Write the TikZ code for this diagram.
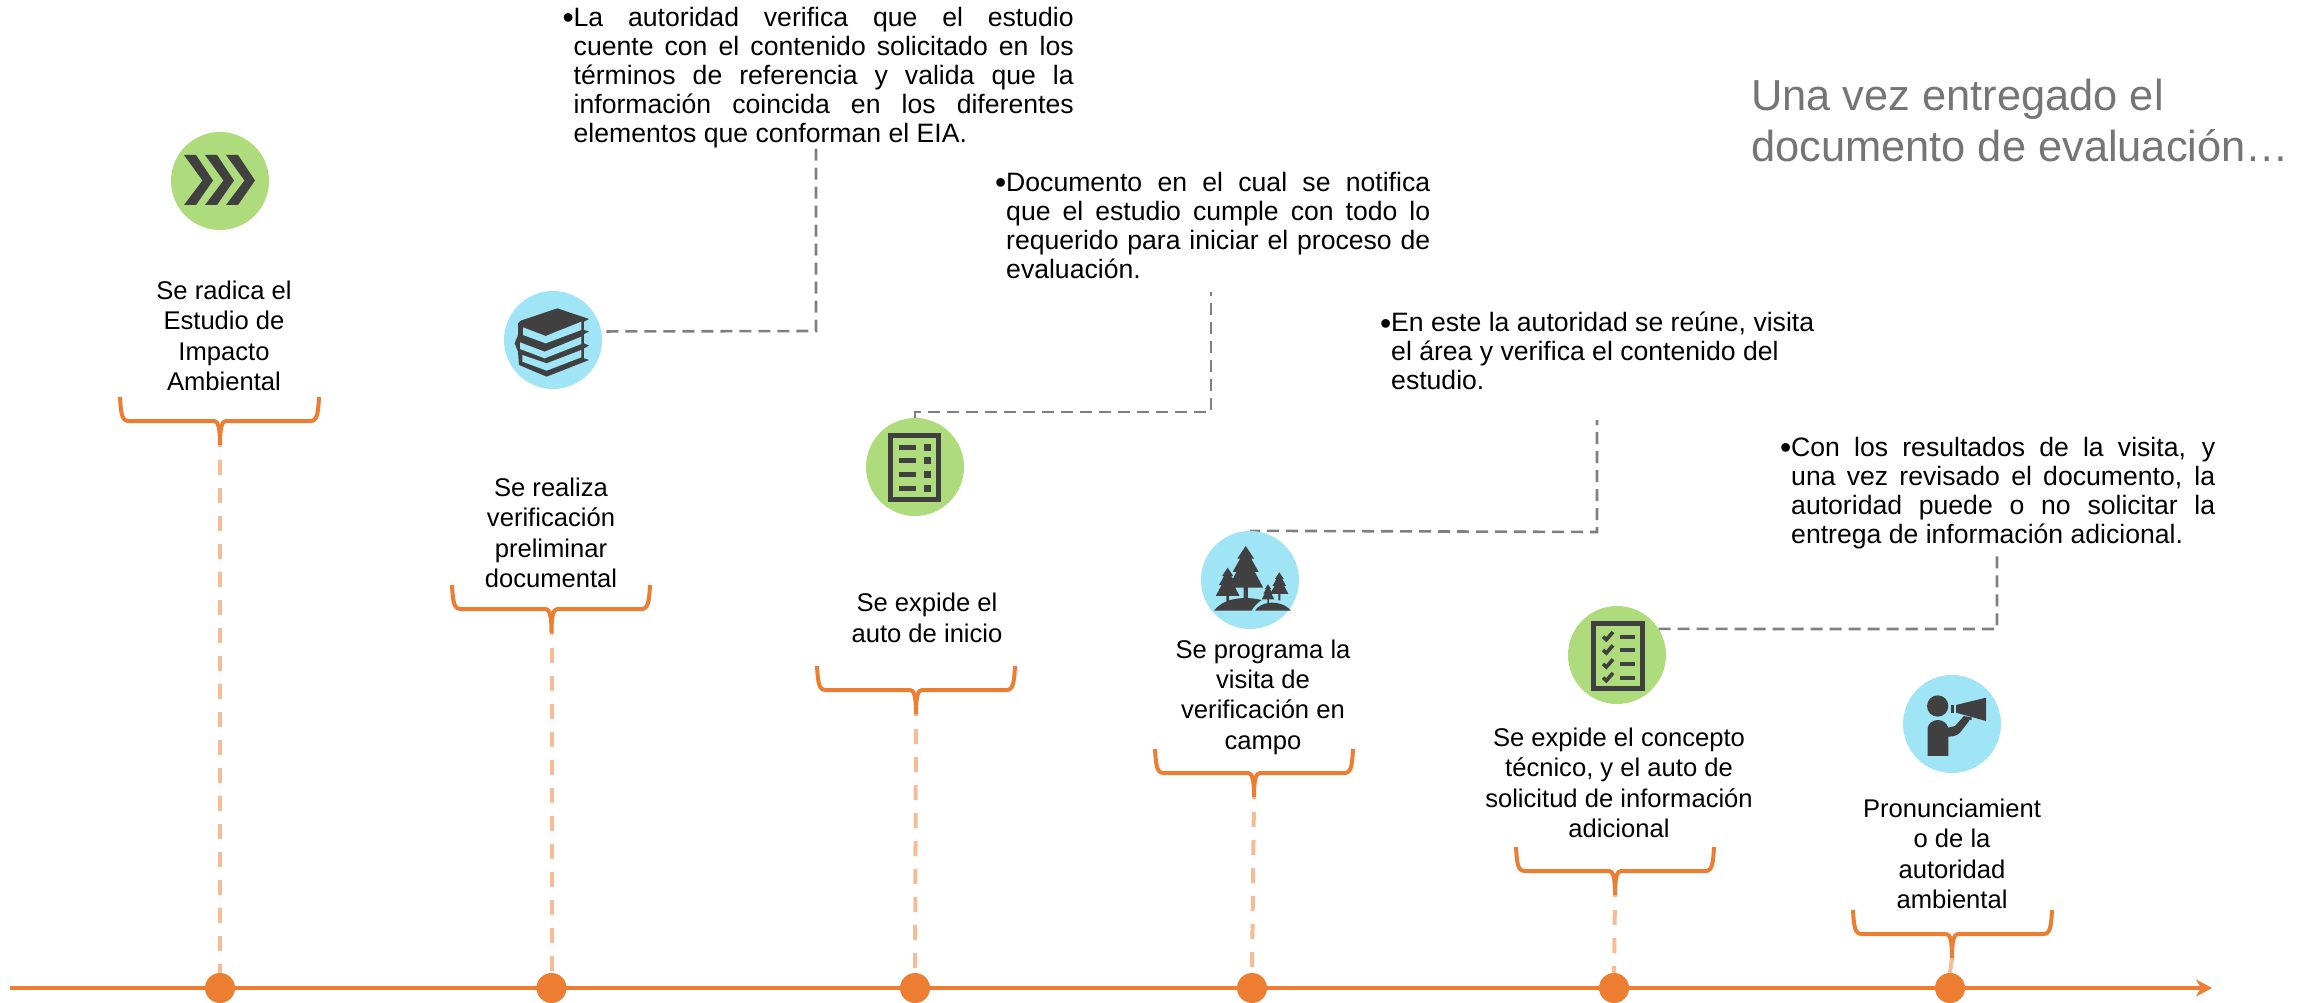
\documentclass[tikz,border=0pt]{standalone}
\usepackage{fontspec}
\setmainfont{Liberation Sans}
\usetikzlibrary{arrows.meta,backgrounds,calc}
\definecolor{orangeA}{HTML}{ED7D31}
\definecolor{orangeL}{HTML}{F5BC96}
\definecolor{greyA}{HTML}{7F7F7F}
\definecolor{greyT}{HTML}{757575}
\definecolor{greenA}{HTML}{AEDB7C}
\definecolor{cyanA}{HTML}{9FE5F5}
\definecolor{darkA}{HTML}{404040}
\newcommand{\hangbullet}{\llap{\raisebox{-2.5pt}{\fontsize{32}{28}\selectfont•}}}
\tikzset{
  greencirc/.style={circle,fill=greenA,minimum size=98pt,inner sep=0pt},
  cyancirc/.style={circle,fill=cyanA,minimum size=98pt,inner sep=0pt},
  dotnode/.style={circle,fill=orangeA,minimum size=30pt,inner sep=0pt},
  labeltxt/.style={align=center,inner sep=0pt,font=\fontsize{25.6}{30.4}\selectfont},
  paratxt/.style={align=justify,inner sep=0pt,anchor=north west,font=\fontsize{26.6}{28.9}\selectfont},
  titletxt/.style={align=left,inner sep=0pt,anchor=north west,text=greyT,font=\fontsize{43.4}{51}\selectfont},
  bracketline/.style={draw=orangeA,line width=4pt,line join=round},
  stemline/.style={draw=orangeL,line width=4pt,dash pattern=on 15pt off 13pt,dash phase=13pt},
  callout/.style={draw=greyA,line width=2.6pt,dash pattern=on 12pt off 7pt},
  zoomed/.style={x=0.3333pt,y=-0.3333pt}
}
% bracket: x1 x2 centre top-y tip-name
\newcommand{\bracketshape}[5]{
  \draw[bracketline] (#1,#4) .. controls ({#1+1},{#4+18}) and ({#1+2},{#4+24}) .. ({#1+9},{#4+24})
    -- ({#3-6},{#4+24}) .. controls ({#3-2},{#4+24}) and (#3,{#4+30}) .. (#3,{#4+48})
    (#3,{#4+48}) .. controls (#3,{#4+30}) and ({#3+2},{#4+24}) .. ({#3+6},{#4+24})
    -- ({#2-9},{#4+24}) .. controls ({#2-2},{#4+24}) and ({#2-1},{#4+18}) .. (#2,#4);
  \coordinate (#5) at (#3,{#4+48});
}
\newcommand{\treeshape}[3]{
  \begin{scope}[shift={(#1,#2)},x=#3*0.3333pt,y=-#3*0.3333pt]
    \fill[darkA] (0,0)--(.2,.3)--(.13,.3)--(.31,.62)--(.22,.62)--(.42,1)--(.05,1)--(.05,1.3)--(-.05,1.3)--(-.05,1)--(-.42,1)--(-.22,.62)--(-.31,.62)--(-.13,.3)--(-.2,.3)--cycle;
  \end{scope}
}
\begin{document}
\begin{tikzpicture}[x=1pt,y=-1pt]
\useasboundingbox (0,0) rectangle (2323,1003);

% icon circles
\node[greencirc] (c1) at (220,181) {};
\node[cyancirc]  (c2) at (553,340) {};
\node[greencirc] (c3) at (915,467) {};
\node[cyancirc]  (c4) at (1250,580) {};
\node[greencirc] (c5) at (1617,655) {};
\node[cyancirc]  (c6) at (1952,724) {};

% timeline
\coordinate (axstart) at (10,988);
\coordinate (axend) at (2212,988);
\draw[draw=orangeA,line width=4pt,-{Stealth[length=16pt,width=17pt,inset=5pt]}] (axstart) -- (axend);
\node[dotnode] (d1) at (220,988) {};
\node[dotnode] (d2) at (551.5,988) {};
\node[dotnode] (d3) at (915,988) {};
\node[dotnode] (d4) at (1252,988) {};
\node[dotnode] (d5) at (1614,988) {};
\node[dotnode] (d6) at (1950,988) {};

% brackets
\bracketshape{120}{319}{220}{397}{t1}
\bracketshape{452}{650}{551.5}{585}{t2}
\bracketshape{817}{1015}{916}{666}{t3}
\bracketshape{1155}{1353}{1254}{749}{t4}
\bracketshape{1516}{1714}{1615}{847}{t5}
\bracketshape{1853}{2052}{1952}{910}{t6}

% callout ends
\coordinate (a1) at (816,331);
\coordinate (a2) at (816,145);
\coordinate (b1) at (1211,412);
\coordinate (b2) at (1211,292);
\coordinate (e1) at (1597,532);
\coordinate (e2) at (1597,420);
\coordinate (f1) at (1997,629);
\coordinate (f2) at (1997,556);

\begin{scope}[on background layer]
  \draw[stemline] (t1) -- (d1.north);
  \draw[stemline] (t2) -- (d2.north);
  \draw[stemline] (t3) -- (d3.north);
  \draw[stemline] (t4) -- (d4.north);
  \draw[stemline] (t5) -- (d5.north);
  \draw[stemline,dash pattern=on 20pt off 0pt] (t6) -- (d6.north);
  \draw[callout] ([xshift=5pt]c2.10) -- (a1) -- (a2);
  \draw[callout] (c3.north) |- (b1) -- (b2);
  \draw[callout,dash phase=2pt] (c4.north) -- (e1) -- (e2);
  \draw[callout] (c5.32) -- (f1) -- (f2);
\end{scope}

% icon 1 chevrons
\foreach \dx in {0,21,42}{
  \fill[darkA] ({184+\dx},155) -- ({196+\dx},155) -- ({213+\dx},180.5) -- ({196+\dx},205) -- ({184+\dx},205) -- ({202.5+\dx},180.5) -- cycle;
}

% icon 2 books
\begin{scope}[shift={(494,280)},zoomed]
  \fill[darkA] (80,122)--(190,85)--(285,117)--(270,125)--(270,150)--(285,155)--(270,162)--(270,190)--(285,197)--(270,205)--(270,235)--(285,240)--(158,290)--(75,255)--(72,215)--(62,190)--(72,165)--(72,130)--cycle;
  \fill[cyanA] (87,142)--(155,168)--(262,125)--(262,150)--(155,190)--(87,165)--cycle;
  \fill[cyanA] (78,187)--(152,215)--(262,170)--(262,192)--(152,235)--(78,207)--cycle;
  \fill[cyanA] (85,225)--(158,250)--(262,210)--(262,232)--(158,272)--(85,245)--cycle;
\end{scope}

% icon 3 document
\draw[darkA,line width=5pt] (890.5,435.5) rectangle (938.5,499.5);
\foreach \yy in {447,460.5,474,488}{
  \fill[darkA] (899,{\yy-2.5}) rectangle (916,{\yy+2.5});
  \fill[darkA] (924,{\yy-3.5}) rectangle (931,{\yy+3.5});
}

% icon 4 forest
\begin{scope}[shift={(1190,520)},zoomed]
  \treeshape{167}{78}{125}
  \treeshape{113}{143}{85}
  \treeshape{268}{157}{65}
  \treeshape{234}{193}{45}
  \fill[darkA] (72,272) .. controls (95,240) and (150,225) .. (215,240) .. controls (200,250) and (190,262) .. (185,272) -- cycle;
  \fill[darkA] (195,272) .. controls (210,245) and (270,235) .. (303,272) -- cycle;
\end{scope}

% icon 5 checklist
\begin{scope}[shift={(1557,595)},zoomed]
  \draw[darkA,line width=5pt] (110.5,86) rectangle (257.5,280);
  \foreach \yy in {125,165,207,248}{
    \draw[darkA,line width=3.6pt] (138,{\yy}) -- (148,{\yy+9}) -- (168,{\yy-14});
    \fill[darkA] (190,{\yy-6}) rectangle (233,{\yy+6});
  }
\end{scope}

% icon 6 megaphone
\begin{scope}[shift={(1850,660)},zoomed]
  \fill[darkA] (263,138) circle [radius=32pt*0.3333];
  \fill[darkA] (233,288) -- (233,205) .. controls (233,190) and (250,180) .. (263,180)
     .. controls (280,180) and (290,190) .. (295,203) -- (315,198) -- (342,168) -- (358,182) -- (330,218) .. controls (322,226) and (310,230) .. (295,230) -- (295,288) -- cycle;
  \fill[darkA] (318,135) -- (408,113) -- (408,183) -- (318,158) -- cycle;
  \fill[darkA] (303,135) rectangle (312,158);
  \fill[darkA] (340,168) -- (365,172) -- (365,180) -- (345,178) -- cycle;
\end{scope}

% step labels
\node[labeltxt] (l1) at (224,336) {Se radica el\\Estudio de\\Impacto\\Ambiental};
\node[labeltxt] (l2) at (551,533) {Se realiza\\verificación\\preliminar\\documental};
\node[labeltxt] (l3) at (927,618) {Se expide el\\auto de inicio};
\node[labeltxt] (l4) at (1263,697) {Se programa la\\visita de\\verificación en\\campo};
\node[labeltxt] (l5) at (1619,783) {Se expide el concepto\\técnico, y el auto de\\solicitud de información\\adicional};
\node[labeltxt] (l6) at (1952,854) {Pronunciamient\\o de la\\autoridad\\ambiental};

% paragraphs
\node[paratxt,text width=500pt] (p1) at (573.5,7) {\hangbullet La autoridad verifica que el estudio\linebreak cuente con el contenido solicitado en los\linebreak términos de referencia y valida que la\linebreak información coincida en los diferentes\linebreak elementos que conforman el EIA.};
\node[paratxt,text width=424pt] (p2) at (1006,172) {\hangbullet Documento en el cual se notifica\linebreak que el estudio cumple con todo lo\linebreak requerido para iniciar el proceso de\linebreak evaluación.};
\node[paratxt,text width=423pt] (p3) at (1391,312) {\hangbullet En este la autoridad se reúne, visita\linebreak el área y verifica el contenido del\newline estudio.};
\node[paratxt,text width=424pt] (p4) at (1791,437) {\hangbullet Con los resultados de la visita, y\linebreak una vez revisado el documento, la\linebreak autoridad puede o no solicitar la\linebreak entrega de información adicional.};

% title
\node[titletxt] (ttl) at (1751,79) {Una vez entregado el\\documento de evaluación…};
\end{tikzpicture}
\end{document}
